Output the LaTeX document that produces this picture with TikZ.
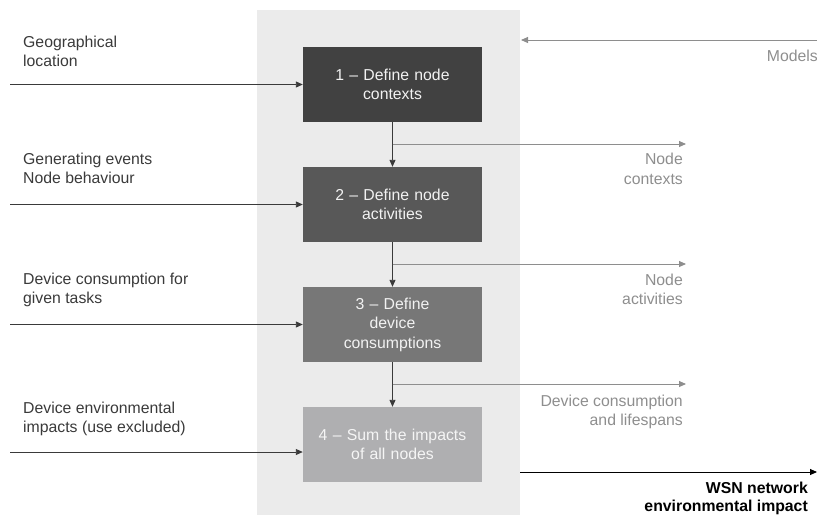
\documentclass[tikz,border=0pt]{standalone}
\usepackage{fontspec}
\setmainfont{Liberation Sans}
\usetikzlibrary{arrows.meta}

\definecolor{panelgray}{HTML}{EBEBEB}
\definecolor{inkgray}{HTML}{3A3A3A}
\definecolor{outgray}{HTML}{8E8E8E}
\definecolor{stepone}{HTML}{414141}
\definecolor{steptwo}{HTML}{585858}
\definecolor{stepthree}{HTML}{777777}
\definecolor{stepfour}{HTML}{AFAFB1}

\begin{document}
\begin{tikzpicture}[
            x=1pt, y=-1pt,
            >={Triangle[length=7pt, width=6pt]},
            font=\fontsize{15.8}{19.5}\selectfont,
            stepbox/.style={minimum width=179pt, minimum height=75pt, inner sep=0pt,
                text width=170pt, align=center, text=white!95!black},
            in label/.style={anchor=north west, align=left, inner sep=0pt, text=inkgray},
            out label/.style={anchor=north east, align=right, inner sep=0pt, text=outgray},
            feed/.style={->, line width=0.9pt, draw=inkgray},
            result/.style={->, line width=0.9pt, draw=outgray},
        ]
        \useasboundingbox (0,0) rectangle (817,515);

        % panel behind the steps
        \fill[panelgray] (257,10) rectangle (520,515);

        \node[stepbox, fill=stepone] (b1) at (392.5,84.5) {1 -- Define node\\contexts};
        \node[stepbox, fill=steptwo] (b2) at (392.5,204.5) {2 -- Define node\\activities};
        \node[stepbox, fill=stepthree] (b3) at (392.5,324.5) {3 -- Define\\device\\consumptions};
        \node[stepbox, fill=stepfour, text=white!96!black] (b4) at (392.5,444.5) {4 -- Sum the impacts\\of all nodes};

        % inputs on the left
        \node[in label] (l1) at (23,35.5) {Geographical\\location};
        \node[in label] (l2) at (23,152.5) {Generating events\\Node behaviour};
        \node[in label] (l3) at (23,272.5) {Device consumption for\\given tasks};
        \node[in label] (l4) at (23,401.5) {Device environmental\\impacts (use excluded)};

        \coordinate (in1) at (10,84.5);
        \coordinate (in2) at (10,204.5);
        \coordinate (in3) at (10,324.5);
        \coordinate (in4) at (10,452);

        \draw[feed] (in1) -- (b1.west);
        \draw[feed] (in2) -- (b2.west);
        \draw[feed] (in3) -- (b3.west);
        \draw[feed] (in4) -- (in4 -| b4.west);

        % chain of steps
        \draw[feed] (b1.south) -- (b2.north);
        \draw[feed] (b2.south) -- (b3.north);
        \draw[feed] (b3.south) -- (b4.north);

        % intermediate results
        \coordinate (out1) at (686,144);
        \coordinate (out2) at (686,264);
        \coordinate (out3) at (686,384);

        \draw[result] (b1.south |- out1) -- (out1);
        \draw[result] (b2.south |- out2) -- (out2);
        \draw[result] (b3.south |- out3) -- (out3);

        \node[out label] (r1) at (683,153) {Node\\contexts};
        \node[out label] (r2) at (683,273.5) {Node\\activities};
        \node[out label] (r3) at (683,394.5) {Device consumption\\and lifespans};

        % models coming in, impact going out
        \coordinate (models) at (817,40);
        \coordinate (impact) at (817,472);
        \draw[result] (models) -- (models -| 521,0);
        \draw[feed, draw=black] (impact -| 520,0) -- (impact);

        \node[out label] (rm) at (818,50) {Models};
        \node[out label, text=black, font=\fontsize{15.8}{18}\selectfont\bfseries] (ro) at (808,481.5) {WSN network\\environmental impact};
        \end{tikzpicture}
\end{document}
